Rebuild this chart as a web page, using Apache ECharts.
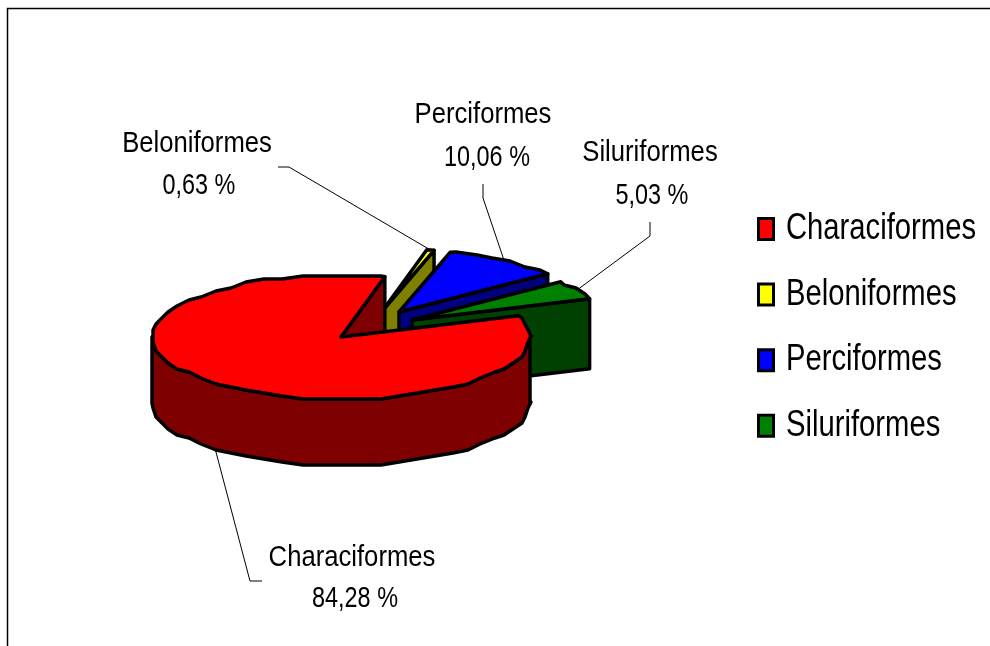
<!DOCTYPE html>
<html>
<head>
<meta charset="utf-8">
<style>
html, body { margin: 0; padding: 0; background: #fff; }
#chart { width: 990px; height: 646px; }
</style>
<script src="https://cdn.jsdelivr.net/npm/echarts@6/dist/echarts.min.js"></script>
</head>
<body>
<div id="chart"></div>
<script>
const categories = ['Characiformes', 'Beloniformes', 'Perciformes', 'Siluriformes']
const percents = [84.28, 0.63, 10.06, 5.03]

// colours of the top face and of the side walls
const topColors = ['#ff0000', '#ffff00', '#0000ff', '#008000']
const wallColors = ['#7f0000', '#808000', '#000080', '#004000']

// fake 3D pie geometry
const pie = { cx: 341, cy: 337, rx: 189, ry: 62, startAngle: 70 }
const explode = [[0, 0], [42, -27], [58, -25], [71, -17]]
const depths = [66, 66, 66, 70]

// data label boxes, the leader runs from the elbow to the slice
const namePos = [[352, 558], [197, 144], [483, 115], [650, 153]]
const valuePos = [[355, 599], [199, 186], [487, 158], [652, 196]]
const elbows = [
    [[262, 581], [250, 581]],
    [[278, 167], [289, 167]],
    [[483, 184], [483, 198]],
    [[650, 222], [650, 236]]
]

const labelFont = '"Liberation Sans", Arial, sans-serif'

function point(angle, off) {
    const rad = angle * Math.PI / 180
    return [
        pie.cx + off[0] + pie.rx * Math.sin(rad),
        pie.cy + off[1] - pie.ry * Math.cos(rad)
    ]
}

// the outline is bumpy in the original (old metafile), so inner points snap to a grid
function arcPoints(from, to, off) {
    const grid = 3
    const step = 6
    const pts = [point(from, off)]
    for (let a = Math.ceil(from / step) * step; a < to; a += step) {
        const p = point(a, off)
        pts.push([Math.round(p[0] / grid) * grid, Math.round(p[1] / grid) * grid])
    }
    pts.push(point(to, off))
    return pts
}

function down(p, d) {
    return [p[0], p[1] + d]
}

function makeRenderItem(idx) {
    return function (params, api) {
        const total = percents.reduce((a, b) => a + b, 0)
        let from = pie.startAngle
        for (let i = 0; i < idx; i++) {
            from += percents[i] / total * 360
        }
        const sweep = api.value(0) / total * 360
        const to = from + sweep
        const mid = from + sweep / 2
        const off = explode[idx]
        const d = depths[idx]
        const apex = [pie.cx + off[0], pie.cy + off[1]]
        const stroke = { stroke: '#000', lineWidth: 3.5, lineJoin: 'round' }
        const children = []

        // wall on the clockwise radial edge
        const endPt = point(to, off)
        children.push({
            type: 'polygon',
            shape: { points: [apex, endPt, down(endPt, d), down(apex, d)] },
            style: Object.assign({ fill: wallColors[idx] }, stroke)
        })

        // curved wall, only the front half shows
        const wFrom = Math.max(from, 90)
        const wTo = Math.min(to, 270)
        if (wTo > wFrom) {
            const upper = arcPoints(wFrom, wTo, off)
            const lower = upper.map(p => down(p, d)).reverse()
            children.push({
                type: 'polygon',
                shape: { points: upper.concat(lower) },
                style: Object.assign({ fill: wallColors[idx] }, stroke)
            })
        }

        // top face
        children.push({
            type: 'polygon',
            shape: { points: [apex].concat(arcPoints(from, to, off)) },
            style: Object.assign({ fill: topColors[idx] }, stroke)
        })

        // leader, ends on the slice rim at the middle angle
        let anchor = point(mid, off)
        if (mid > 90 && mid < 270) {
            anchor = down(anchor, d)
        }
        children.push({
            type: 'polyline',
            shape: { points: elbows[idx].concat([anchor]) },
            style: { stroke: '#000', lineWidth: 1, fill: null }
        })

        // data label, squeezed like the narrow type of the original
        children.push({
            type: 'text',
            x: namePos[idx][0],
            y: namePos[idx][1],
            scaleX: 0.855,
            style: {
                text: categories[idx],
                fill: '#000',
                font: '30px ' + labelFont,
                align: 'center',
                verticalAlign: 'middle'
            }
        })
        children.push({
            type: 'text',
            x: valuePos[idx][0],
            y: valuePos[idx][1],
            scaleX: 0.78,
            style: {
                text: String(api.value(0)).replace('.', ',') + ' %',
                fill: '#000',
                font: '30px ' + labelFont,
                align: 'center',
                verticalAlign: 'middle'
            }
        })

        return { type: 'group', children: children }
    }
}

// legend is hand made, the library legend can't squeeze its text
const legendGraphic = []
categories.forEach((name, i) => {
    const y = 229 + i * 65.6
    legendGraphic.push({
        type: 'rect',
        silent: true,
        shape: { x: 758.5, y: y - 10.5, width: 15, height: 21 },
        style: { fill: topColors[i], stroke: '#000', lineWidth: 3 }
    })
    legendGraphic.push({
        type: 'text',
        silent: true,
        x: 786,
        y: y,
        scaleX: 0.79,
        style: {
            text: name,
            fill: '#000',
            font: '37px ' + labelFont,
            align: 'left',
            verticalAlign: 'middle'
        }
    })
})

const chart = echarts.init(document.getElementById('chart'), null, { renderer: 'canvas' })

chart.setOption({
    animation: false,
    backgroundColor: '#ffffff',
    graphic: [{
        type: 'polyline',
        silent: true,
        shape: { points: [[7.5, 646], [7.5, 8.5], [990, 8.5]] },
        style: { stroke: '#000', lineWidth: 1.5, fill: null }
    }].concat(legendGraphic),
    // back slices first, the big red one goes on top
    series: categories.map((name, i) => ({
        type: 'custom',
        name: name,
        coordinateSystem: 'none',
        z: i === 0 ? 6 : 2 + i,
        silent: true,
        renderItem: makeRenderItem(i),
        data: [[percents[i]]]
    }))
})
</script>
</body>
</html>
